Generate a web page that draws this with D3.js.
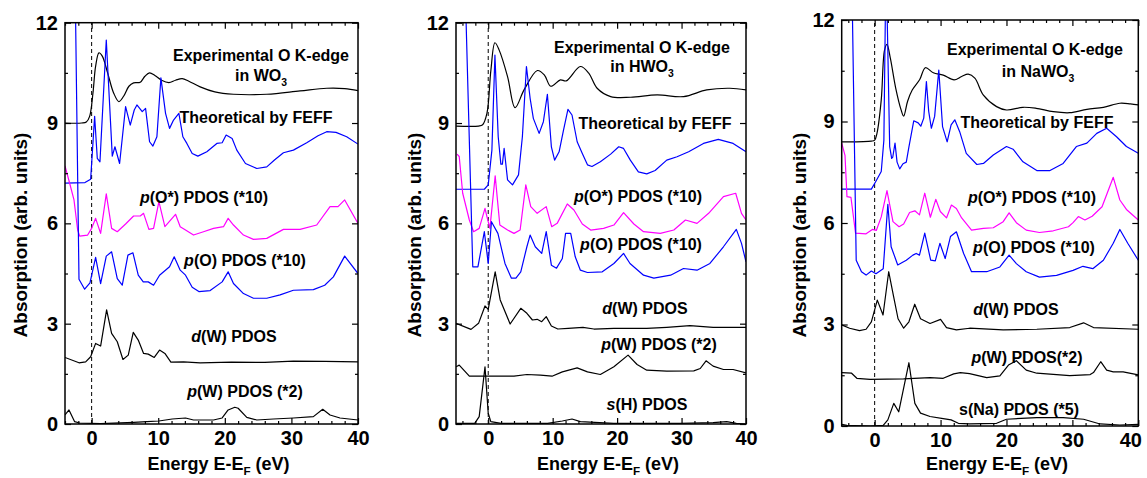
<!DOCTYPE html>
<html>
<head>
<meta charset="utf-8">
<script src="https://cdn.jsdelivr.net/npm/d3@7"></script>
<style>
  body { margin: 0; background: #fff; }
  svg { font-family: 'Liberation Sans', Arial, sans-serif; font-weight: bold; }
  .axis text { font-family: 'Liberation Sans', Arial, sans-serif; font-weight: bold; fill: #000; }
  .axis line { stroke: #000; stroke-width: 1.2; }
</style>
</head>
<body>
<svg id="chart" width="1147" height="478"></svg>
<script>

// x tick labels / y tick labels
const xMajor = [0, 10, 20, 30, 40];
const xMinor = [-4, -2, 2, 4, 6, 8, 12, 14, 16, 18, 22, 24, 26, 28, 32, 34, 36, 38];
const yMajor = [0, 3, 6, 9, 12];
const yMinor = [1.5, 4.5, 7.5, 10.5];

// ---------- WO3 ----------
const wo3Exp = [[-4,9.0],[-1.5,9.0],[-0.8,9.03],[-0.3,9.2],[0.2,9.9],[0.6,10.7],[1.1,11.1],[1.6,11.0],[2.4,10.5],[3.3,9.9],[4.1,9.64],[4.8,9.8],[5.6,10.1],[6.3,10.2],[7.3,10.22],[8.0,10.4],[8.7,10.5],[9.5,10.42],[10.5,10.28],[11.6,10.21],[12.6,10.28],[13.6,10.33],[14.6,10.25],[16.3,10.08],[18.5,9.93],[21.3,9.86],[26.3,9.86],[31.3,9.96],[35.3,10.04],[38,10.03],[40,9.97]];
const wo3Feff = [[-4,7.2],[-1,7.22],[-0.15,7.32],[0.45,9.2],[0.85,7.94],[1.25,7.84],[2.2,11.48],[3.1,8.01],[3.5,8.29],[4.2,7.79],[5.1,9.49],[5.8,8.94],[6.4,9.39],[6.8,9.54],[7.6,9.34],[8.1,9.44],[8.7,8.44],[9.2,8.31],[9.8,8.59],[10.4,10.35],[11.1,9.29],[11.7,8.84],[12.3,9.09],[13.1,9.29],[13.7,8.59],[14.3,8.39],[15.1,8.09],[15.95,8.01],[17.3,8.14],[18.8,8.39],[19.6,8.41],[20.2,8.64],[21.1,8.54],[21.8,8.19],[23.1,7.79],[24.8,7.64],[26.3,7.69],[27.5,7.9],[28.8,8.11],[30.3,8.19],[32.3,8.41],[34,8.62],[35.3,8.74],[36.7,8.72],[38.3,8.59],[40,8.37]];
const wo3POstar = [[-4,7.72],[-3.3,7.2],[-2.65,6.7],[-2.1,5.8],[-1.8,5.62],[-0.6,5.65],[0,5.85],[0.6,6.15],[1.35,5.7],[2.2,6.88],[3.0,5.85],[3.85,5.75],[5.1,5.98],[6.3,6.22],[7.3,6.22],[7.8,6.3],[8.6,5.82],[9.3,5.85],[10.1,6.65],[11.0,5.9],[12.6,6.27],[13.3,5.9],[14.1,5.8],[15.3,5.65],[16.8,5.75],[18.3,5.85],[19.8,5.9],[20.5,6.15],[21.3,5.95],[22.8,5.65],[24.3,5.52],[26.3,5.55],[28.8,5.82],[31.3,5.82],[33.8,5.95],[35.8,6.5],[37.0,6.5],[38,6.7],[40,6.0]];
const wo3PO = [[-2.5,13.5],[-1.9,4.33],[-1.05,4.03],[-0.25,4.22],[0.6,4.98],[1.35,4.2],[2.2,5.02],[3.0,5.15],[3.85,4.35],[4.6,4.15],[5.45,5.05],[6.2,5.12],[7.0,4.45],[7.75,4.25],[8.5,4.25],[9.3,4.15],[10.2,4.45],[11.7,4.7],[12.4,5.0],[13.3,4.6],[14.1,4.45],[15.1,4.09],[16.1,3.96],[17.8,3.99],[19.6,4.25],[20.5,4.55],[21.3,4.2],[22.8,3.9],[24.3,3.76],[26.3,3.76],[28.3,3.86],[30.3,4.0],[33.3,4.02],[35.0,4.15],[36.3,4.4],[38,5.02],[40,4.5]];
const wo3DW = [[-4,1.99],[-1.9,1.83],[-0.9,1.86],[-0.15,2.01],[0.6,2.41],[1.35,2.33],[2.25,3.41],[3.0,2.71],[3.85,2.46],[4.7,1.93],[5.5,2.06],[6.25,2.74],[7.0,2.51],[7.8,2.11],[8.5,2.09],[9.4,1.99],[10.2,2.21],[11.0,2.11],[11.9,1.85],[13.8,1.86],[16.3,1.83],[21,1.85],[26,1.84],[30.3,1.88],[35,1.87],[40,1.86]];
const wo3PW = [[-4,0.27],[-3.4,0.42],[-2.55,0.07],[-1.8,0.03],[1.35,0.01],[6.3,0.05],[8.3,0.07],[10.1,0.09],[12.1,0.15],[14.1,0.18],[15.3,0.12],[18.3,0.12],[19.6,0.18],[20.5,0.42],[21.5,0.5],[22,0.47],[23.3,0.2],[24.8,0.12],[27.3,0.15],[30.3,0.18],[33.3,0.22],[34.7,0.44],[35.8,0.27],[37.3,0.18],[40,0.12]];

// ---------- HWO3 ----------
const hwo3Exp = [[-5,8.91],[-1.5,8.91],[-0.87,8.95],[-0.2,9.29],[0.42,10.59],[1.04,11.4],[1.7,11.18],[3.0,10.39],[4.17,9.46],[5.56,9.99],[7.63,10.57],[8.7,10.44],[9.7,10.1],[11.2,10.29],[12.1,10.26],[14.3,10.69],[15.6,10.49],[16.9,10.04],[19.0,9.79],[22.1,9.77],[26.2,9.84],[30.3,9.79],[33.9,9.99],[37.5,10.04],[40,9.99]];
const hwo3Feff = [[-5,7.02],[-0.6,7.02],[0,7.15],[0.57,8.19],[1.04,11.03],[1.55,8.59],[1.96,7.77],[2.2,7.77],[2.47,8.24],[3.0,7.3],[3.77,7.15],[4.7,7.45],[5.3,8.59],[5.93,10.69],[6.5,9.74],[7.0,9.14],[7.9,8.69],[8.56,9.04],[9.18,9.86],[9.8,8.29],[10.3,7.89],[11.0,8.14],[11.65,8.76],[12.37,9.41],[13.0,9.24],[13.8,8.44],[14.6,8.09],[15.4,7.75],[16.1,7.7],[17.4,7.84],[19.0,8.07],[20.25,8.29],[21.0,8.24],[22.05,7.89],[23.3,7.54],[24.6,7.48],[25.9,7.58],[27.7,7.89],[29.3,7.99],[31.1,8.14],[33.4,8.39],[35.7,8.51],[38.0,8.39],[40,8.14]];
const hwo3POstar = [[-4.84,8.07],[-4.5,8.0],[-3.96,6.9],[-2.93,6.1],[-2.27,5.75],[-1.4,5.85],[-0.5,6.45],[-0.2,6.2],[0.26,5.85],[1.08,7.42],[1.8,5.95],[3.0,5.8],[4.0,5.7],[4.95,5.8],[5.83,7.15],[6.6,6.5],[7.6,6.3],[9.0,6.5],[9.85,5.9],[10.7,6.0],[12.27,6.58],[13.3,6.4],[14.6,5.98],[15.9,5.8],[17.9,5.85],[19.5,5.95],[21.0,6.32],[22.6,5.98],[24.1,5.75],[26.7,5.7],[28.8,5.8],[30.6,6.1],[32.4,6.0],[34.2,6.3],[36.5,6.8],[38.4,6.9],[39.3,6.3],[40,6.1]];
const hwo3PO = [[-3.5,12.5],[-2.4,4.7],[-1.6,4.7],[-0.6,5.75],[0.0,4.8],[0.5,6.05],[1.5,5.7],[2.6,4.8],[3.6,4.36],[4.3,4.36],[5.05,4.55],[6.0,5.3],[6.5,5.65],[7.3,5.3],[8.3,5.1],[9.0,5.75],[9.8,4.75],[10.6,4.66],[11.5,4.95],[12.0,5.7],[12.8,5.7],[13.5,5.0],[14.3,4.6],[15.4,4.53],[17.7,4.55],[19.5,4.8],[21.0,5.1],[22.0,4.8],[24.1,4.45],[25.7,4.36],[28.3,4.45],[30.3,4.65],[32.4,4.6],[34.4,4.8],[36.5,5.3],[38.5,5.82],[39.3,5.4],[40,4.85]];
const hwo3DW = [[-5,3.01],[-2.67,2.83],[-1.5,3.01],[-0.5,3.53],[0,3.43],[1.08,4.55],[1.86,3.71],[3.4,2.99],[5.05,3.46],[6.0,3.31],[6.86,3.11],[7.6,3.13],[8.3,3.06],[9.0,3.21],[9.8,2.93],[10.8,2.84],[12.4,2.86],[14.7,2.89],[16.4,2.84],[19.5,2.86],[24.6,2.86],[27.7,2.89],[31.3,2.94],[34.9,2.89],[40,2.89]];
const hwo3PW = [[-5,1.71],[-4.5,1.76],[-2.93,1.43],[-1.1,1.43],[4.0,1.43],[6.0,1.48],[8.1,1.46],[9.9,1.43],[11.5,1.56],[13.8,1.68],[15.4,1.56],[17.4,1.48],[19.5,1.71],[21.7,2.06],[23.1,1.78],[24.6,1.61],[27.7,1.58],[31.9,1.59],[32.9,1.66],[33.8,1.89],[34.9,1.73],[36.5,1.63],[38,1.63],[40,1.53]];
const hwo3SH = [[-5,0.02],[-2.1,0.02],[-1.4,0.22],[-0.5,1.71],[0,0.32],[0.4,0.07],[2,0.02],[9.2,0.02],[11.5,0.09],[13.0,0.15],[14.3,0.07],[19.5,0.02],[29.8,0.02],[34.9,0.04],[37,0.07],[38.5,0.02],[40,0.0]];

// ---------- NaWO3 ----------
const nawo3Exp = [[-5,8.4],[-0.5,8.42],[0.0,8.45],[0.35,8.65],[1.0,9.64],[1.5,11.11],[1.87,11.28],[2.38,10.87],[3.2,9.98],[4.0,9.35],[4.4,9.16],[5.0,9.6],[5.7,9.93],[6.84,10.24],[7.7,10.59],[8.9,10.44],[10.4,10.37],[12.05,10.23],[13.2,10.33],[14.2,10.4],[15.2,10.28],[16.5,9.78],[18.5,9.44],[20.0,9.34],[22.5,9.42],[24.5,9.39],[27.1,9.29],[29.6,9.26],[32.2,9.36],[34.7,9.42],[37.2,9.54],[38.8,9.52],[40,9.49]];
const nawo3Feff = [[-5,7.0],[-0.5,7.0],[0.15,7.22],[1.0,7.52],[1.4,8.45],[1.65,12.6],[1.85,12.6],[2.28,8.26],[2.58,7.91],[2.75,7.95],[3.09,8.36],[3.4,7.8],[3.8,7.6],[4.3,7.75],[4.8,7.8],[5.2,8.25],[5.93,9.02],[6.6,8.96],[7.0,8.86],[7.45,9.1],[7.85,10.18],[8.2,9.3],[8.6,8.8],[9.1,9.15],[9.73,10.52],[10.3,8.85],[11.0,8.4],[11.6,8.9],[12.16,9.05],[12.9,8.7],[13.9,8.06],[15.5,7.73],[16.5,7.76],[18.0,8.01],[20.0,8.26],[21.0,8.18],[22.5,7.81],[24.6,7.55],[26.6,7.55],[28.6,7.76],[30.6,8.26],[32.2,8.36],[33.7,8.65],[35.2,8.8],[36.7,8.55],[38.2,8.26],[40,8.06]];
const nawo3POstar = [[-5,8.36],[-4.5,8.0],[-4.2,6.78],[-3.6,6.76],[-2.9,5.7],[-1.3,5.68],[-0.35,5.81],[0.25,5.78],[1.0,6.18],[1.87,6.96],[2.78,6.04],[3.7,5.89],[4.4,5.97],[5.3,6.31],[6.1,6.36],[6.8,6.24],[7.6,6.88],[8.45,6.17],[9.27,6.7],[9.96,6.34],[10.9,6.15],[11.65,6.53],[12.4,6.43],[13.2,6.15],[14.7,5.79],[16.5,5.84],[18.0,5.86],[19.5,6.04],[20.4,6.3],[21.5,6.01],[23,5.79],[25,5.72],[27.1,5.77],[29.4,5.89],[30.1,6.01],[30.9,6.19],[31.9,6.09],[33,6.2],[34.5,6.48],[36.2,7.35],[37.2,6.68],[38.2,6.4],[40,6.09]];
const nawo3PO = [[-3.4,12.5],[-2.8,4.9],[-2.0,4.56],[-1.3,4.46],[-0.5,4.58],[0.2,4.5],[1.3,4.65],[2.0,6.55],[2.5,5.3],[3.5,4.76],[4.8,4.9],[5.8,5.05],[6.3,5.1],[6.8,5.05],[7.6,5.7],[8.5,4.9],[9.2,4.88],[9.9,5.4],[10.7,4.95],[11.5,5.6],[12.4,5.74],[13.5,5.1],[14.7,4.56],[17,4.56],[19,4.7],[20.4,5.05],[21.5,4.8],[23,4.56],[25,4.4],[27.6,4.45],[30.1,4.6],[31.6,4.72],[33.1,4.65],[34.7,4.9],[36.2,5.4],[37.2,5.81],[38.4,5.4],[40,4.9]];
const nawo3DW = [[-5,2.99],[-3.8,2.89],[-2.3,2.82],[-1.3,2.86],[-0.5,3.08],[0.4,3.72],[1.27,3.28],[2.13,4.56],[2.9,3.8],[3.55,3.17],[4.4,2.89],[5.2,3.08],[6.08,3.6],[6.96,3.17],[8.4,3.03],[10.0,3.15],[10.9,2.91],[12.4,2.84],[14.4,2.89],[19.5,2.84],[24.6,2.86],[29.6,2.91],[31.7,3.05],[33.2,2.91],[40,2.86]];
const nawo3PW = [[-5,1.58],[-3.5,1.56],[-2.7,1.41],[-0.7,1.38],[4.4,1.39],[8.4,1.43],[10.4,1.41],[12.0,1.54],[13.0,1.58],[14.4,1.55],[17,1.43],[19,1.48],[20.3,1.8],[21.5,1.93],[23,1.65],[24.6,1.56],[29.6,1.49],[32.7,1.52],[33.2,1.58],[34.3,1.9],[35.2,1.65],[36.2,1.6],[37.7,1.6],[40,1.51]];
const nawo3SNa = [[-5,0.05],[-4.2,0.02],[-0.7,0.0],[1.3,0.02],[2.0,0.18],[2.9,0.67],[3.65,0.42],[5.2,1.87],[6.1,0.67],[6.96,0.38],[8.4,0.28],[10.4,0.22],[11.6,0.18],[12.7,0.08],[14.4,0.06],[18.5,0.08],[20,0.2],[24.6,0.25],[28.6,0.25],[31.7,0.2],[34.2,0.06],[37.2,0.03],[40,0.05]];

const BLACK = "#000000", BLUE = "#0000ff", MAG = "#ff00ff";

const panels = [
  { x0: 65, x1: 358, y0: 22.7, y1: 424, xmin: -4, ylabX: 27,
    series: [[wo3Exp, BLACK, true], [wo3Feff, BLUE], [wo3POstar, MAG], [wo3PO, BLUE], [wo3DW, BLACK], [wo3PW, BLACK]],
    labels: [
      [261, 61, [["Experimental O K-edge"]]],
      [261, 81, [["in WO"], ["3", "sub"]]],
      [256, 123, [["Theoretical by FEFF"]]],
      [204, 203, [["p", "i"], ["(O*) PDOS (*10)"]]],
      [245, 266, [["p", "i"], ["(O) PDOS (*10)"]]],
      [234, 342, [["d", "i"], ["(W) PDOS"]]],
      [245, 397, [["p", "i"], ["(W) PDOS (*2)"]]]
    ] },
  { x0: 456, x1: 746, y0: 22.7, y1: 424, xmin: -5, ylabX: 421,
    series: [[hwo3Exp, BLACK, true], [hwo3Feff, BLUE], [hwo3POstar, MAG], [hwo3PO, BLUE], [hwo3DW, BLACK], [hwo3PW, BLACK], [hwo3SH, BLACK]],
    labels: [
      [642, 53, [["Experimental O K-edge"]]],
      [642, 72, [["in HWO"], ["3", "sub"]]],
      [655, 129, [["Theoretical by FEFF"]]],
      [638, 202, [["p", "i"], ["(O*) PDOS (*10)"]]],
      [641, 250, [["p", "i"], ["(O) PDOS (*10)"]]],
      [645, 314, [["d", "i"], ["(W) PDOS"]]],
      [659, 350, [["p", "i"], ["(W) PDOS (*2)"]]],
      [647, 410, [["s", "i"], ["(H) PDOS"]]]
    ] },
  { x0: 841.7, x1: 1138.3, y0: 20, y1: 426, xmin: -5, ylabX: 806,
    series: [[nawo3Exp, BLACK, true], [nawo3Feff, BLUE], [nawo3POstar, MAG], [nawo3PO, BLUE], [nawo3DW, BLACK], [nawo3PW, BLACK], [nawo3SNa, BLACK]],
    labels: [
      [1035, 55, [["Experimental O K-edge"]]],
      [1038, 77, [["in NaWO"], ["3", "sub"]]],
      [1037, 128, [["Theoretical by FEFF"]]],
      [1032, 203, [["p", "i"], ["(O*) PDOS (*10)"]]],
      [1034, 253, [["p", "i"], ["(O) PDOS (*10)"]]],
      [1016, 315, [["d", "i"], ["(W) PDOS"]]],
      [1027, 363, [["p", "i"], ["(W) PDOS(*2)"]]],
      [1019, 415, [["s(Na) PDOS (*5)"]]]
    ] }
];

const svg = d3.select("#chart");

function addText(g, x, y, parts, size) {
  const t = g.append("text").attr("x", x).attr("y", y)
    .attr("text-anchor", "middle").style("font-size", size + "px");
  parts.forEach(function (p) {
    const s = t.append("tspan").text(p[0]);
    if (p[1] === "i") s.style("font-style", "italic");
    if (p[1] === "sub") s.attr("dy", size * 0.3).style("font-size", (size * 0.65) + "px");
    if (p[1] === "up") s.attr("dy", -size * 0.3);
  });
  return t;
}

panels.forEach(function (P, pi) {
  const x = d3.scaleLinear().domain([P.xmin, 40]).range([P.x0, P.x1]);
  const y = d3.scaleLinear().domain([0, 12]).range([P.y1, P.y0]);
  const g = svg.append("g");

  g.append("clipPath").attr("id", "clip" + pi)
    .append("rect").attr("x", P.x0).attr("y", P.y0)
    .attr("width", P.x1 - P.x0).attr("height", P.y1 - P.y0);

  // dashed Fermi level line
  g.append("line")
    .attr("x1", x(0)).attr("x2", x(0)).attr("y1", y(0)).attr("y2", y(12))
    .attr("stroke", "#000").attr("stroke-width", 1).attr("stroke-dasharray", "4,3");

  // curves
  const curves = g.append("g").attr("clip-path", "url(#clip" + pi + ")");
  P.series.forEach(function (s) {
    const line = d3.line()
      .x(function (d) { return x(d[0]); })
      .y(function (d) { return y(d[1]); })
      .curve(s[2] ? d3.curveCatmullRom : d3.curveLinear);
    curves.append("path").datum(s[0])
      .attr("d", line).attr("fill", "none")
      .attr("stroke", s[1]).attr("stroke-width", 1.2)
      .attr("stroke-linejoin", "round");
  });

  // axes, ticks pointing inward
  function ax(gen, scale, tx, ty, vals, size, labels) {
    const a = gen(scale).tickValues(vals).tickSizeInner(-size).tickSizeOuter(0);
    if (labels) a.tickPadding(7); else a.tickFormat("");
    const gg = g.append("g").attr("class", "axis")
      .attr("transform", "translate(" + tx + "," + ty + ")")
      .call(a);
    gg.select(".domain").remove();
    gg.selectAll("text").style("font-size", "20px");
    return gg;
  }
  const bx = ax(d3.axisBottom, x, 0, P.y1, xMajor, 6, true);
  ax(d3.axisBottom, x, 0, P.y1, xMinor, 3, false);
  ax(d3.axisTop, x, 0, P.y0, xMajor, 6, false);
  ax(d3.axisTop, x, 0, P.y0, xMinor, 3, false);
  ax(d3.axisLeft, y, P.x0, 0, yMajor, 6, true);
  ax(d3.axisLeft, y, P.x0, 0, yMinor, 3, false);
  ax(d3.axisRight, y, P.x1, 0, yMajor, 6, false);
  ax(d3.axisRight, y, P.x1, 0, yMinor, 3, false);
  // last panel: keep the "40" inside the page
  if (pi === 2) bx.selectAll("text").filter(function (d) { return d === 40; }).attr("dx", -8);

  // frame
  g.append("rect").attr("x", P.x0).attr("y", P.y0)
    .attr("width", P.x1 - P.x0).attr("height", P.y1 - P.y0)
    .attr("fill", "none").attr("stroke", "#000").attr("stroke-width", 1.5);

  // annotations
  P.labels.forEach(function (l) { addText(g, l[0], l[1], l[2], 16); });

  // axis titles
  addText(g, (P.x0 + P.x1) / 2 + 7, 470, [["Energy E-E"], ["F", "sub"], [" (eV)", "up"]], 18);
  addText(g, 0, 0, [["Absorption (arb. units)"]], 19)
    .attr("transform", "translate(" + P.ylabX + ",235) rotate(-90)");
});

</script>
</body>
</html>
